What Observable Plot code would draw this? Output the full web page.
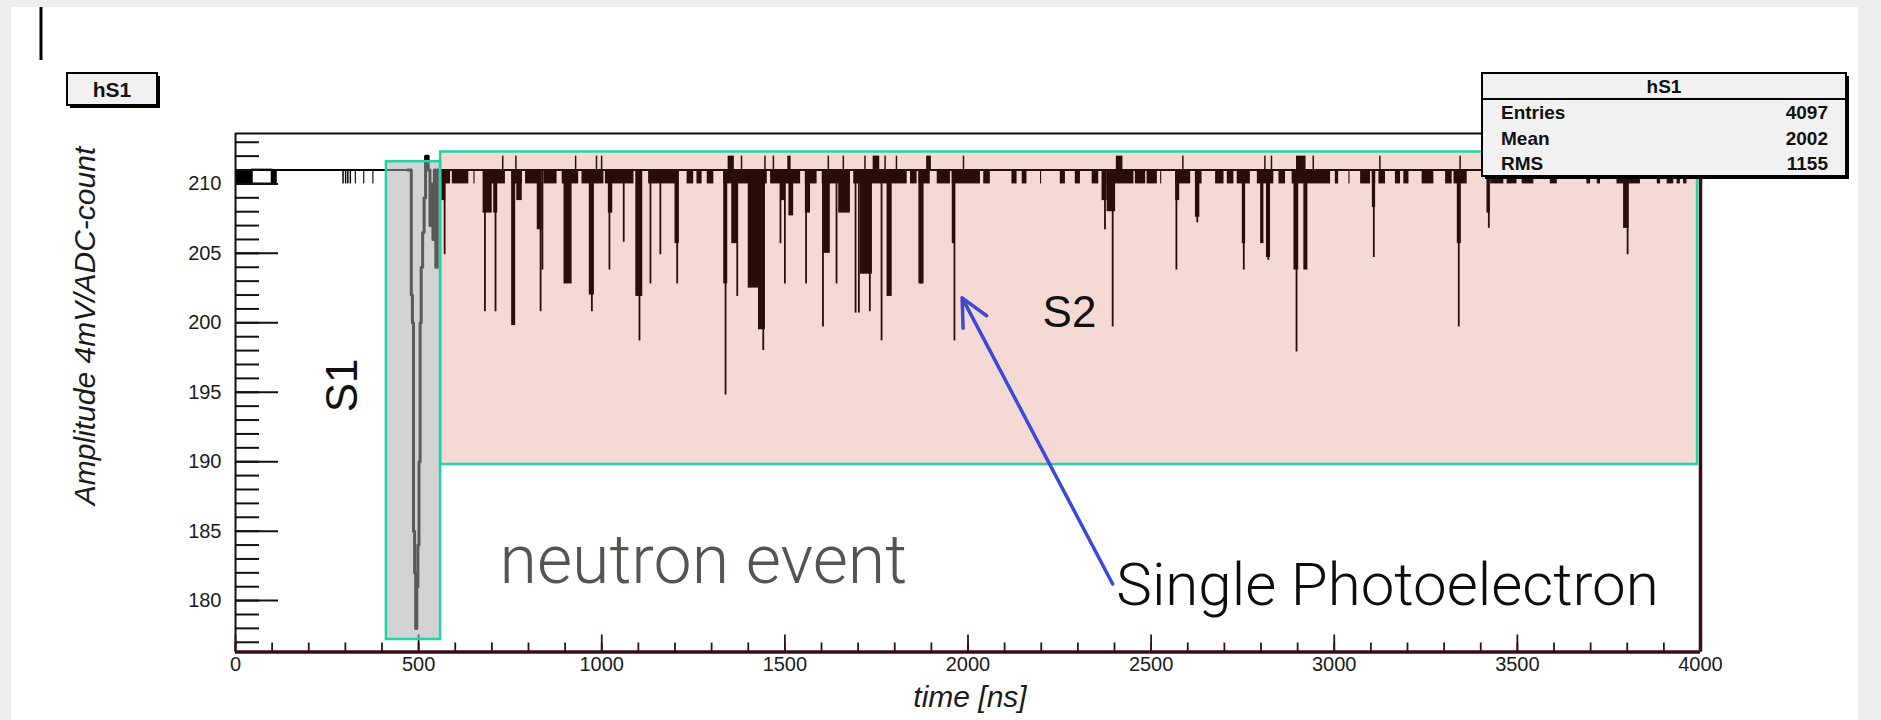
<!DOCTYPE html>
<html><head><meta charset="utf-8">
<script src="https://cdn.jsdelivr.net/npm/d3@7"></script>
<script src="https://cdn.jsdelivr.net/npm/@observablehq/plot@0.6"></script>
<style>
html,body{margin:0;padding:0;background:#efeeec;width:1881px;height:720px;overflow:hidden}
#panel{position:absolute;left:11px;top:7px;width:1847px;height:713px;background:#fff}
#chart{position:absolute;left:0;top:0}
</style></head><body><div id="panel"></div><div id="chart"></div>
<script>
// ---------------- data ----------------
const histName = "hS1";
const statsLabels = ["Entries", "Mean", "RMS"];
const statsValues = [4097, 2002, 1155];
const xTitle = "time [ns]";
const yTitle = "Amplitude 4mV/ADC-count";

const xTicks = [0, 500, 1000, 1500, 2000, 2500, 3000, 3500, 4000];
const xMinorTicks = d3.range(0, 4001, 100);
const yTicks = [180, 185, 190, 195, 200, 205, 210];
const yMinorTicks = d3.range(177, 214, 1);

const baselineADC = 211;
const noiseADC = 210;
const overshootADC = 212;

// baseline segments (ns)
const baseStart = [0, 551];
const baseEnd = [480, 4000];

// one-count dips to 210 (ns)
const dipStart = [0,100,293,300,306,313,327,350,375,
  560,592,651,678,755,792,842,892,946,1010,1128,1233,1260,1288,1333,
  1406,1461,1497,1556,1602,1688,1729,1843,1866,1916,1957,2043,2120,2148,2198,2252,2293,
  2339,2380,2457,2489,2526,2567,2621,2676,2708,2735,2790,2849,2885,3003,3040,3072,3104,3122,3167,
  3190,3240,3304,3327,3427,3472,3513,3590,3690,3718,3772,3882,3909,3936,3954];
const dipEnd = [46,114,297,304,310,317,330,353,378,
  587,637,654,737,783,833,878,937,1006,1088,1210,1251,1274,1306,1406,
  1452,1488,1543,1588,1679,1725,1834,1861,1897,1952,2034,2061,2134,2161,2201,2266,2307,
  2357,2453,2485,2517,2529,2608,2639,2699,2726,2771,2835,2867,2990,3012,3043,3099,3113,3140,3181,
  3204,3272,3322,3363,3463,3499,3545,3609,3700,3727,3836,3891,3927,3945,3963];
const openDipStart = [46];
const openDipEnd = [100];

// photoelectron bursts (dense part): start, end (ns), minimum amplitude
const burstStart = [563,676,705,754,768,824,897,966,1018,1093,1200,1333,1355,1400,1428,1488,1511,1556,1604,1647,1706,1779,1866,1957,2366,2380,2567,2621,2749,2799,2815,2890,2917,3104,3336,3417,3790];
const burstEnd   = [574,701,716,765,783,837,919,980,1030,1112,1212,1344,1373,1428,1447,1502,1524,1570,1624,1679,1739,1793,1880,1966,2380,2403,2578,2633,2758,2808,2826,2903,2928,3113,3347,3426,3805];
const burstMin   = [208.8,207.9,207.9,199.8,208.8,206.7,202.8,202.0,207.9,201.9,205.7,202.8,205.7,202.5,199.5,208.8,207.7,207.9,205.0,207.9,203.5,201.9,202.8,205.7,208.8,208.0,208.8,207.6,205.7,205.7,204.7,203.8,203.8,208.3,205.7,207.9,206.8];

// single-bin tails: time (ns), minimum amplitude
const tailTime = [571,681,710,833,838,973,1021,1060,1103,1133,1160,1206,1338,1370,1441,1488,1500,1558,1604,1641,1693,1702,1732,1764,1872,1963,2374,2395,2569,2626,2753,2820,2897,3108,3340,3422,3801];
const tailMin  = [204.9,200.8,200.8,200.8,203.8,200.8,203.8,205.8,198.7,202.8,204.9,202.8,194.8,201.9,198.0,205.7,202.8,202.8,199.7,202.8,200.7,200.7,200.8,198.7,202.8,198.7,206.7,199.7,203.8,207.2,203.8,204.5,197.9,204.7,199.7,206.8,204.9];

// overshoots to 212 (ns)
const upStart = [729,765,928,985,999,1345,1381,1445,1468,1508,1618,1659,1718,1741,1773,1804,1887,1987,2405,2586,2810,2828,2897,2942,3124,3343];
const upEnd   = [733,769,932,989,1003,1362,1385,1449,1472,1517,1622,1663,1722,1759,1777,1808,1900,1991,2423,2590,2814,2832,2923,2946,3128,3347];

// S1 pulse (step trace)
const s1Time = [470,480,483,486,489,492,495,498,501,504,507,511,515,519,526,531,535,539,543,547,551,556];
const s1Amp  = [211,202,200,185,182,178,181,184,190,200,204,206.5,209,212,211,207,210,206,211,204,211,211];

// annotation regions
const regionLabel = ["S1", "S2"];
const regionX1 = [412, 560];
const regionX2 = [560, 3992];
const regionY1 = [177.2, 189.8];
const regionY2 = [211.6, 212.3];

// annotation texts
const noteText = ["S1", "S2", "neutron event", "Single Photoelectron"];
const noteX = [292, 2277, 721, 2405];
const noteY = [195.5, 200.7, 182.8, 181.1];

// arrow (tail -> head)
const arrowX1 = 2395, arrowY1 = 181.2, arrowX2 = 1984, arrowY2 = 201.8;

// ---------------- tables ----------------
const baseSegs = baseStart.map((s, i) => ({x1: s, x2: baseEnd[i], y: baselineADC}));
const dips = dipStart.map((s, i) => ({x1: s, x2: dipEnd[i], y1: noiseADC, y2: baselineADC}));
const openDips = openDipStart.map((s, i) => ({x1: s, x2: openDipEnd[i], y1: noiseADC, y2: baselineADC}));
const bursts = burstStart.map((s, i) => ({x1: s, x2: burstEnd[i], y1: burstMin[i], y2: baselineADC}));
const tails = tailTime.map((t, i) => ({x: t, y1: tailMin[i], y2: baselineADC}));
const ups = upStart.map((s, i) => ({x1: s, x2: upEnd[i], y1: baselineADC, y2: overshootADC}));
const s1 = s1Time.map((t, i) => ({x: t, y: s1Amp[i]}));
const regions = regionLabel.map((l, i) => ({label: l, x1: regionX1[i], x2: regionX2[i], y1: regionY1[i], y2: regionY2[i]}));
const notes = noteText.map((t, i) => ({text: t, x: noteX[i], y: noteY[i]}));
const arrows = [{x1: arrowX1, y1: arrowY1, x2: arrowX2, y2: arrowY2}];

const W = 1881, H = 720, ML = 235, MR = 181, MT = 133, MB = 68.5;
const FW = W - ML - MR, FH = H - MT - MB;
const yDomain = [176.3, 213.63];
const ink = "#000";
const axisDark = "#3a0d12";
const teal = "#22d2a9";

const plot = Plot.plot({
  width: W, height: H,
  marginLeft: ML, marginRight: MR, marginTop: MT, marginBottom: MB,
  style: {background: "transparent", fontFamily: "'Liberation Sans', Arial, sans-serif", overflow: "visible"},
  x: {domain: [0, 4000]},
  y: {domain: yDomain},
  marks: [
    Plot.ruleY(baseSegs, {y: "y", x1: "x1", x2: "x2", stroke: ink, strokeWidth: 2}),
    Plot.rect(dips, {x1: "x1", x2: "x2", y1: "y1", y2: "y2", fill: ink}),
    Plot.rect(openDips, {x1: "x1", x2: "x2", y1: "y1", y2: "y2", fill: "none", stroke: ink, strokeWidth: 1.8}),
    Plot.rect(bursts, {x1: "x1", x2: "x2", y1: "y1", y2: "y2", fill: ink}),
    Plot.rect(ups, {x1: "x1", x2: "x2", y1: "y1", y2: "y2", fill: ink}),
    Plot.ruleX(tails, {x: "x", y1: "y1", y2: "y2", stroke: ink, strokeWidth: 1.8}),
    Plot.line(s1, {x: "x", y: "y", curve: "step-after", stroke: ink, strokeWidth: 3}),
    // frame
    Plot.ruleX([0], {stroke: "#111", strokeWidth: 2}),
    Plot.ruleY([yDomain[1]], {stroke: "#111", strokeWidth: 2}),
    Plot.ruleX([4000], {stroke: axisDark, strokeWidth: 3.5}),
    Plot.ruleY([yDomain[0]], {stroke: axisDark, strokeWidth: 3.5}),
    // ticks (inside)
    Plot.tickY(yMinorTicks, {y: d => d, insetRight: FW - 24, stroke: "#111", strokeWidth: 2}),
    Plot.tickY(yTicks, {y: d => d, insetRight: FW - 43, stroke: "#111", strokeWidth: 2}),
    Plot.tickX(xMinorTicks, {x: d => d, insetTop: FH - 9, stroke: axisDark, strokeWidth: 1.8}),
    Plot.tickX(xTicks, {x: d => d, insetTop: FH - 17, stroke: axisDark, strokeWidth: 1.8}),
    Plot.axisY(yTicks, {tickSize: 0, tickPadding: 14, fontSize: 20, fill: "#1b1b1b", label: null, tickFormat: d => `${d}`}),
    Plot.axisX(xTicks, {tickSize: 0, tickPadding: 5, fontSize: 20, fill: "#1b1b1b", label: null, tickFormat: d => `${d}`}),
    // annotation boxes
    Plot.rect(regions.filter(d => d.label === "S1"), {x1: "x1", x2: "x2", y1: "y1", y2: "y2", fill: "#ababab", fillOpacity: 0.525, stroke: teal, strokeWidth: 2.5, ariaLabel: "S1 region"}),
    Plot.rect(regions.filter(d => d.label === "S2"), {x1: "x1", x2: "x2", y1: "y1", y2: "y2", fill: "rgb(205,65,45)", fillOpacity: 0.2, stroke: teal, strokeWidth: 2.5, ariaLabel: "S2 region"}),
    Plot.text(notes.filter(d => d.text === "S1"), {x: "x", y: "y", text: "text", rotate: -90, fontSize: 44, fill: "#111", fontFamily: "'Liberation Sans', Arial, sans-serif", lineAnchor: "middle", ariaLabel: "note S1"}),
    Plot.text(notes.filter(d => d.text === "S2"), {x: "x", y: "y", text: "text", fontSize: 44, fill: "#111", fontFamily: "'Liberation Sans', Arial, sans-serif", lineAnchor: "middle", ariaLabel: "note S2"}),
    Plot.text(notes.filter(d => d.text === "neutron event"), {x: "x", y: "y", text: "text", textAnchor: "start", fontSize: 68, fontWeight: 300, fill: "#57534f", fontFamily: "Roboto, 'Liberation Sans', sans-serif", lineAnchor: "middle", ariaLabel: "note neutron"}),
    Plot.text(notes.filter(d => d.text === "Single Photoelectron"), {x: "x", y: "y", text: "text", textAnchor: "start", fontSize: 60, fontWeight: 300, fill: "#0d0d0d", fontFamily: "Roboto, 'Liberation Sans', sans-serif", lineAnchor: "middle", ariaLabel: "note single"}),
    Plot.arrow(arrows, {x1: "x1", y1: "y1", x2: "x2", y2: "y2", stroke: "#3b48d8", strokeWidth: 3.5, headLength: 13, headAngle: 52})
  ]
});
document.getElementById("chart").append(plot);

const s = d3.select(plot);
s.select('g[aria-label="note neutron"] text').attr("textLength", 435).attr("lengthAdjust", "spacingAndGlyphs");
s.select('g[aria-label="note single"] text').attr("textLength", 547).attr("lengthAdjust", "spacingAndGlyphs");
s.select('g[aria-label="S2 region"]').style("filter", "drop-shadow(0px 4px 3px rgba(0,0,0,0.28))");
s.select('g[aria-label="S1 region"]').style("filter", "drop-shadow(0px 3px 3px rgba(0,0,0,0.22))");
s.selectAll('g[aria-label="note S1"], g[aria-label="note S2"], g[aria-label="note single"]').style("filter", "drop-shadow(1px 3px 2px rgba(0,0,0,0.3))");

// stats box (drawn under the annotation overlays)
const font = "'Liberation Sans', Arial, sans-serif";
const st = s.insert("g", 'g[aria-label="S1 region"]');
st.append("rect").attr("x", 1485).attr("y", 76).attr("width", 364).attr("height", 103).attr("fill", "#000");
st.append("rect").attr("x", 1482).attr("y", 73).attr("width", 364).attr("height", 103).attr("fill", "#f1f1f1").attr("stroke", "#000").attr("stroke-width", 2);
st.append("line").attr("x1", 1482).attr("x2", 1846).attr("y1", 99).attr("y2", 99).attr("stroke", "#000").attr("stroke-width", 2);
st.append("text").attr("x", 1664).attr("y", 93).attr("text-anchor", "middle").attr("font-family", font).attr("font-weight", "bold").attr("font-size", 19).attr("fill", "#111").text(histName);
statsLabels.forEach((l, i) => {
  const yb = 119 + i * 25.5;
  st.append("text").attr("x", 1501).attr("y", yb).attr("text-anchor", "start").attr("font-family", font).attr("font-weight", "bold").attr("font-size", 19).attr("fill", "#111").text(l);
  st.append("text").attr("x", 1828).attr("y", yb).attr("text-anchor", "end").attr("font-family", font).attr("font-weight", "bold").attr("font-size", 19).attr("fill", "#111").text(statsValues[i]);
});

// title box, axis titles, cursor
const deco = s.append("g");
deco.append("rect").attr("x", 70).attr("y", 76).attr("width", 90).attr("height", 32).attr("fill", "#000");
deco.append("rect").attr("x", 67).attr("y", 73).attr("width", 90).attr("height", 32).attr("fill", "#f1f1f1").attr("stroke", "#000").attr("stroke-width", 2);
deco.append("text").attr("x", 112).attr("y", 97).attr("text-anchor", "middle").attr("font-family", font).attr("font-weight", "bold").attr("font-size", 21).attr("fill", "#111").text(histName);
deco.append("text").attr("transform", "translate(95,326) rotate(-90)").attr("text-anchor", "middle").attr("font-family", font).attr("font-style", "italic").attr("font-size", 30).attr("fill", "#1b1b1b").text(yTitle);
deco.append("text").attr("x", 970).attr("y", 707).attr("text-anchor", "middle").attr("font-family", font).attr("font-style", "italic").attr("font-size", 30).attr("fill", "#1b1b1b").text(xTitle);
deco.append("line").attr("x1", 41).attr("x2", 41).attr("y1", 7).attr("y2", 60).attr("stroke", "#000").attr("stroke-width", 3);
</script></body></html>
